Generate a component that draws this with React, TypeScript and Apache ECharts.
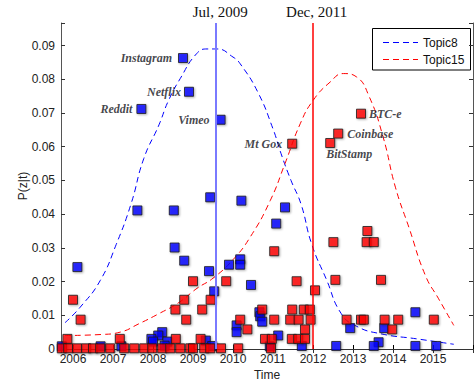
import React, { useEffect, useRef } from "react";
import * as echarts from "echarts";

// ---------- data ----------
const xTickYears = [2006, 2007, 2008, 2009, 2010, 2011, 2012, 2013, 2014, 2015];
const yTickValues = [0, 0.01, 0.02, 0.03, 0.04, 0.05, 0.06, 0.07, 0.08, 0.09];

const markerDates = [2009.58, 2011.99];
const markerLabels = ["Jul, 2009", "Dec, 2011"];

const topic8CurveYears = [2005.8, 2006.18, 2006.68, 2007.08, 2007.45, 2007.77, 2008.15, 2008.38, 2008.68, 2009.09, 2009.35, 2009.6, 2010.0, 2010.18, 2010.62, 2011.0, 2011.2, 2011.45, 2011.7, 2011.97, 2012.34, 2012.7, 2013.08, 2013.7, 2014.6, 2015.52];
const topic8CurveValues = [0.0078, 0.0124, 0.0203, 0.031, 0.043, 0.0565, 0.0665, 0.0735, 0.0802, 0.0876, 0.089, 0.089, 0.0866, 0.0846, 0.0762, 0.0653, 0.058, 0.05, 0.043, 0.031, 0.0205, 0.0106, 0.0068, 0.0045, 0.003, 0.0014];

const topic15CurveYears = [2005.8, 2006.7, 2007.18, 2007.65, 2008.15, 2008.65, 2009.1, 2009.5, 2010.0, 2010.43, 2010.93, 2011.3, 2011.68, 2012.0, 2012.43, 2012.76, 2013.09, 2013.4, 2013.75, 2014.06, 2014.4, 2014.81, 2015.14, 2015.52];
const topic15CurveValues = [0.004, 0.0043, 0.005, 0.0075, 0.0105, 0.0138, 0.018, 0.021, 0.0265, 0.0332, 0.044, 0.055, 0.0668, 0.0737, 0.0792, 0.0817, 0.0807, 0.075, 0.063, 0.048, 0.036, 0.0218, 0.0149, 0.007];

const topic8Named = [
  { name: "Instagram", x: 2008.75, y: 0.0863 },
  { name: "Netflix", x: 2008.9, y: 0.0763 },
  { name: "Reddit", x: 2007.71, y: 0.0712 },
  { name: "Vimeo", x: 2009.69, y: 0.068 },
];
const topic15Named = [
  { name: "BTC-e", x: 2013.2, y: 0.0698 },
  { name: "Coinbase", x: 2012.63, y: 0.0639 },
  { name: "BitStamp", x: 2012.43, y: 0.0611 },
  { name: "Mt Gox", x: 2011.48, y: 0.0609 },
];

const topic8Points: [number, number][] = [
  [2009.43, 0.045], [2010.21, 0.044], [2011.3, 0.042], [2007.61, 0.0411], [2008.52, 0.0411],
  [2011.08, 0.0372], [2008.54, 0.0301], [2008.78, 0.0262], [2010.18, 0.0266], [2010.18, 0.025],
  [2009.9, 0.025], [2006.11, 0.0243], [2009.4, 0.0231], [2010.45, 0.019], [2009.53, 0.0171],
  [2010.66, 0.0109], [2010.68, 0.0097], [2010.73, 0.0081], [2010.09, 0.007], [2010.09, 0.005],
  [2011.13, 0.004], [2009.32, 0.0025], [2009.48, 0.0009], [2010.92, 0.0008], [2011.72, 0.0009],
  [2012.58, 0.0009], [2012.93, 0.0062], [2013.78, 0.0062], [2013.64, 0.002], [2013.52, 0.0009],
  [2014.56, 0.0109], [2014.56, 0.0009], [2015.08, 0.0009], [2008.23, 0.005], [2008.13, 0.004],
  [2007.96, 0.003], [2008.0, 0.0022], [2008.36, 0.0022], [2008.29, 0.001], [2006.69, 0.0008],
  [2007.21, 0.0008], [2005.72, 0.0008],
];

const topic15Points: [number, number][] = [
  [2013.36, 0.035], [2012.51, 0.0317], [2013.34, 0.0317], [2013.52, 0.0317], [2011.03, 0.029],
  [2012.56, 0.0205], [2013.7, 0.0205], [2009.83, 0.0201], [2011.59, 0.0201], [2009.0, 0.0201],
  [2012.05, 0.0174], [2009.44, 0.0146], [2008.78, 0.0146], [2006.0, 0.0146], [2009.23, 0.0117],
  [2008.56, 0.0117], [2010.73, 0.0117], [2011.48, 0.0117], [2011.77, 0.0117], [2011.92, 0.0117],
  [2006.19, 0.0087], [2008.83, 0.0087], [2010.18, 0.0087], [2011.03, 0.0087], [2011.43, 0.0087],
  [2011.64, 0.0087], [2011.94, 0.0087], [2012.84, 0.0087], [2013.2, 0.0087], [2013.27, 0.0087],
  [2013.79, 0.0087], [2014.13, 0.0087], [2015.02, 0.0087], [2010.36, 0.0058], [2011.8, 0.0058],
  [2013.98, 0.0058], [2005.86, 0.003], [2007.17, 0.003], [2008.57, 0.003], [2009.19, 0.003],
  [2010.8, 0.003], [2010.97, 0.003], [2011.47, 0.003], [2011.63, 0.003], [2011.8, 0.003],
  [2005.72, 0.0002], [2005.88, 0.0002], [2006.1, 0.0002], [2006.33, 0.0002], [2006.5, 0.0002],
  [2006.68, 0.0002], [2006.93, 0.0002], [2007.28, 0.0002], [2007.53, 0.0002], [2007.78, 0.0002],
  [2007.98, 0.0002], [2008.23, 0.0002], [2008.43, 0.0002], [2008.68, 0.0002], [2008.93, 0.0002],
  [2009.0, 0.0002], [2009.28, 0.0002], [2009.43, 0.0002], [2009.7, 0.0002], [2010.13, 0.0002],
  [2010.95, 0.0002],
];

const legendNames = ["Topic8", "Topic15"];

// ---------- styles ----------
const X_MIN = 2005.7;
const X_MAX = 2016;
const Y_MAX = 0.0967;
const BLUE = "#0000ff";
const RED = "#ff0000";
const SANS = "Liberation Sans";
const SERIF = "Liberation Serif";

const labelPlacement: Record<string, any> = {
  Instagram: { position: "left", distance: 6 },
  Netflix: { position: "left", distance: 3 },
  Reddit: { position: "left", distance: 4 },
  Vimeo: { position: "left", distance: 6 },
  "Mt Gox": { position: "left", distance: 5 },
  "BTC-e": { position: "right", distance: 3 },
  Coinbase: { position: "right", distance: 4 },
  BitStamp: { position: [1, 10], align: "left", verticalAlign: "top" },
};

export default function App() {
  const ref = useRef<HTMLDivElement>(null);
  useEffect(() => {
    const chart = echarts.init(ref.current!, null, { renderer: "svg" });

    const squareItem = (color: string) => ({
      color,
      borderColor: "#1a1a1a",
      borderWidth: 1,
      shadowColor: "rgba(0,0,0,0.35)",
      shadowBlur: 2,
      shadowOffsetX: 1,
      shadowOffsetY: 1,
    });
    const annotText = {
      show: true,
      fontFamily: SERIF,
      fontStyle: "italic",
      fontWeight: "bold",
      fontSize: 12,
      color: "#141420",
    };
    const named = (arr: { name: string; x: number; y: number }[]) =>
      arr.map((d) => ({
        name: d.name,
        value: [d.x, d.y],
        label: { ...annotText, formatter: d.name, ...labelPlacement[d.name] },
      }));

    const isYTick = (v: number) => yTickValues.some((t) => Math.abs(t - v) < 1e-9);
    const isXTick = (v: number) => xTickYears.some((t) => Math.abs(t - v) < 1e-9);

    const xBase = {
      type: "value",
      min: X_MIN,
      max: X_MAX,
      splitNumber: 10,
      minInterval: 1,
      maxInterval: 1,
      splitLine: { show: false },
    };
    const yBase = {
      type: "value",
      min: 0,
      max: Y_MAX,
      interval: 0.01,
      splitLine: { show: false },
    };

    chart.setOption({
      animation: false,
      textStyle: { fontFamily: SANS },
      grid: { left: 61, top: 23, width: 412, height: 326, containLabel: false, outerBoundsMode: "none" },
      xAxis: [
        {
          ...xBase,
          position: "bottom",
          name: "Time",
          nameLocation: "middle",
          nameGap: 20,
          nameMoveOverlap: false,
          nameTextStyle: { fontFamily: SANS, fontSize: 12, lineHeight: 12, color: "#222" },
          axisLine: { show: true, lineStyle: { color: "#000", width: 1 } },
          axisTick: { show: true, inside: true, length: 4, lineStyle: { color: "#000" } },
          axisLabel: {
            show: true,
            margin: 4,
            fontFamily: SANS,
            fontSize: 12,
            color: "#222",
            formatter: (v: number) => (isXTick(v) ? String(Math.round(v)) : ""),
          },
        },
        {
          ...xBase,
          position: "top",
          axisLine: { show: true, lineStyle: { color: "#333", width: 1 } },
          axisTick: { show: true, inside: true, length: 4, lineStyle: { color: "#333" } },
          axisLabel: { show: false },
        },
      ],
      yAxis: [
        {
          ...yBase,
          position: "left",
          name: "P(z|t)",
          nameLocation: "middle",
          nameRotate: 90,
          nameGap: 32,
          nameMoveOverlap: false,
          nameTextStyle: { fontFamily: SANS, fontSize: 12, color: "#222" },
          axisLine: { show: true, lineStyle: { color: "#555", width: 1 } },
          axisTick: { show: true, inside: true, length: 4, lineStyle: { color: "#333" } },
          axisLabel: {
            show: true,
            margin: 6,
            fontFamily: SANS,
            fontSize: 12,
            color: "#222",
            formatter: (v: number) => (!isYTick(v) ? "" : v === 0 ? "0" : v.toFixed(2)),
          },
        },
        {
          ...yBase,
          position: "right",
          axisLine: { show: true, lineStyle: { color: "#555", width: 1 } },
          axisTick: { show: true, inside: true, length: 4, lineStyle: { color: "#333" } },
          axisLabel: { show: false },
        },
      ],
      series: [
        {
          name: legendNames[0],
          type: "line",
          data: topic8CurveYears.map((x, i) => [x, topic8CurveValues[i]]),
          smooth: true,
          showSymbol: false,
          symbol: "none",
          lineStyle: { color: BLUE, width: 1, type: [6, 4] },
          z: 2,
          markLine: {
            symbol: "none",
            silent: true,
            animation: false,
            label: {
              show: true,
              position: "end",
              distance: 4,
              fontFamily: SERIF,
              fontSize: 15,
              color: "#111",
              padding: [0, 0, 0, 8],
            },
            data: markerDates.map((d, i) => ({
              xAxis: d,
              label: { formatter: markerLabels[i] },
              lineStyle: i === 0
                ? { color: "#7a7aff", width: 2, type: "solid" }
                : { color: RED, width: 1.5, type: "solid" },
            })),
          },
        },
        {
          name: legendNames[1],
          type: "line",
          data: topic15CurveYears.map((x, i) => [x, topic15CurveValues[i]]),
          smooth: true,
          showSymbol: false,
          symbol: "none",
          lineStyle: { color: RED, width: 1, type: [6, 4] },
          z: 2,
        },
        {
          name: "Topic8 docs",
          type: "scatter",
          symbol: "rect",
          symbolSize: 9,
          itemStyle: squareItem(BLUE),
          data: [...topic8Points.map((p) => ({ value: p })), ...named(topic8Named)],
          z: 3,
        },
        {
          name: "Topic15 docs",
          type: "scatter",
          symbol: "rect",
          symbolSize: 9,
          itemStyle: squareItem(RED),
          data: [...topic15Points.map((p) => ({ value: p })), ...named(topic15Named)],
          z: 4,
        },
      ],
      graphic: [
        {
          type: "group",
          left: 372,
          top: 28,
          z: 10,
          children: [
            { type: "rect", shape: { x: 0.5, y: 0.5, width: 98, height: 41.5 }, style: { fill: "#fff", stroke: "#000", lineWidth: 1 } },
            { type: "line", shape: { x1: 11, y1: 14.5, x2: 46, y2: 14.5 }, style: { stroke: BLUE, lineWidth: 1, lineDash: [6, 4] } },
            { type: "line", shape: { x1: 11, y1: 31.5, x2: 46, y2: 31.5 }, style: { stroke: RED, lineWidth: 1, lineDash: [6, 4] } },
            { type: "text", x: 51, y: 14.5, style: { text: legendNames[0], font: `12px ${SANS}`, fill: "#111", verticalAlign: "middle" } },
            { type: "text", x: 51, y: 31.5, style: { text: legendNames[1], font: `12px ${SANS}`, fill: "#111", verticalAlign: "middle" } },
          ],
        },
      ],
    });
    return () => chart.dispose();
  }, []);
  return <div ref={ref} style={{ position: "fixed", left: 0, top: 0, width: 474, height: 381, background: "#fff" }} />;
}
